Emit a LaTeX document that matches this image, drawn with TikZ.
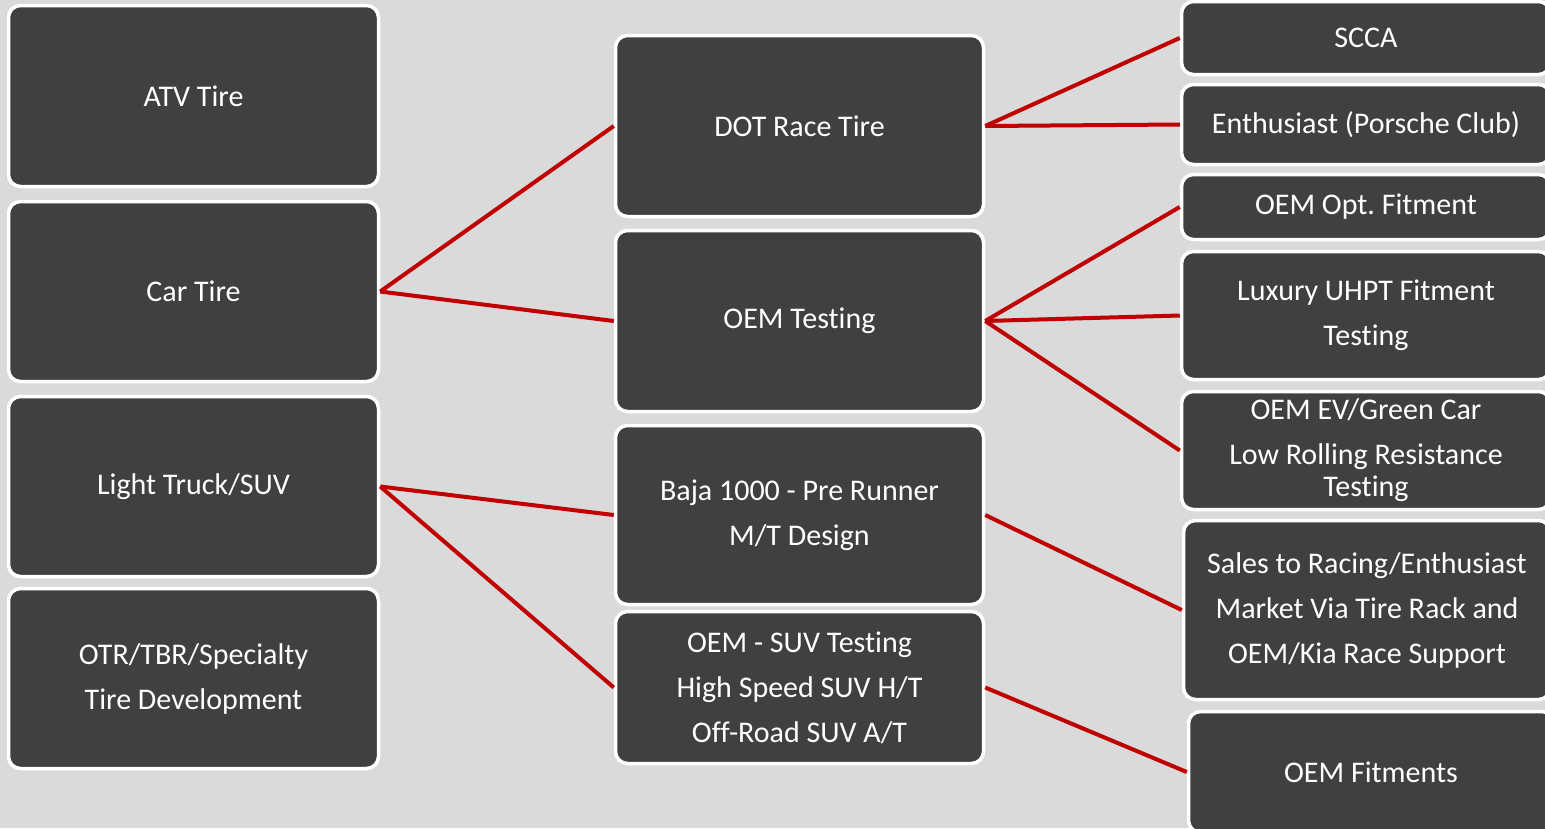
\documentclass[tikz,border=0pt]{standalone}
\usepackage{fontspec}
\setmainfont[Ligatures=CommonOff]{Carlito}
\usepackage{tikz}
\usetikzlibrary{positioning}
\definecolor{carbon}{RGB}{218,218,218}
\definecolor{boxgray}{RGB}{64,64,64}
\definecolor{linkred}{RGB}{192,0,0}
\frenchspacing

\begin{document}
\begin{tikzpicture}[x=1pt, y=-1pt,
  box/.style={draw=white, line width=3.5pt, fill=boxgray, rounded corners=12pt,
    text=white, align=center, inner sep=0pt, font=\fontsize{30}{45}\selectfont},
  link/.style={draw=linkred, line width=4pt}]
\useasboundingbox (0,0) rectangle (1545,828);
\clip (0,0) rectangle (1545,828);
\fill[carbon] (0,0) rectangle (1545,828);
%% ---- left column: tire types ----
\node[box, minimum width=370pt, minimum height=181pt] (atv)   at (193.5,96)    {ATV Tire};
\node[box, minimum width=370pt, minimum height=180pt] (car)   at (193.5,291.5) {Car Tire};
\node[box, minimum width=370pt, minimum height=180pt] (truck) at (193.5,486.5) {Light Truck/SUV};
\node[box, minimum width=370pt, minimum height=180pt] (otr)   at (193.5,678.5) {OTR/TBR/Specialty\\Tire Development};
%% ---- middle column: programs ----
\node[box, minimum width=368pt, minimum height=181pt] (dot)     at (799.5,126)   {DOT Race Tire};
\node[box, minimum width=368pt, minimum height=181pt] (oemtest) at (799.5,321)   {OEM Testing};
\node[box, minimum width=368pt, minimum height=179pt] (baja)    at (799.5,515)   {Baja 1000 - Pre Runner\\M/T Design};
\node[box, minimum width=368pt, minimum height=152pt] (suvtest) at (799.5,687.5) {OEM - SUV Testing\\High Speed SUV H/T\\Off-Road SUV A/T};
%% ---- right column: markets ----
\node[box, minimum width=369pt, minimum height=73pt]  (scca)     at (1366,38)    {SCCA};
\node[box, minimum width=369pt, minimum height=80pt]  (enth)     at (1366,124.5) {Enthusiast (Porsche Club)};
\node[box, minimum width=369pt, minimum height=65pt]  (opt)      at (1366,207)   {OEM Opt. Fitment};
\node[box, minimum width=369pt, minimum height=128pt] (luxury)   at (1366,315.5) {Luxury UHPT Fitment\\Testing};
\node[box, minimum width=369pt, minimum height=118pt] (ev)       at (1366,450.5) {OEM EV/Green Car\\Low Rolling Resistance\\[-13pt]Testing};
\node[box, minimum width=367pt, minimum height=179pt] (sales)    at (1367,610)   {Sales to Racing/Enthusiast\\Market Via Tire Rack and\\OEM/Kia Race Support};
\node[box, minimum width=365pt, minimum height=121pt] (fitments) at (1371,772)   {OEM Fitments};
%% ---- links ----
\draw[link] (car.east) -- (dot.west);
\draw[link] (car.east) -- (oemtest.west);
\draw[link] (truck.east) -- (baja.west);
\draw[link] (truck.east) -- (suvtest.west);
\draw[link] (dot.east) -- (scca.west);
\draw[link] (dot.east) -- (enth.west);
\draw[link] (oemtest.east) -- (opt.west);
\draw[link] (oemtest.east) -- (luxury.west);
\draw[link] (oemtest.east) -- (ev.west);
\draw[link] (baja.east) -- (sales.west);
\draw[link] (suvtest.east) -- (fitments.west);
\end{tikzpicture}
\end{document}
